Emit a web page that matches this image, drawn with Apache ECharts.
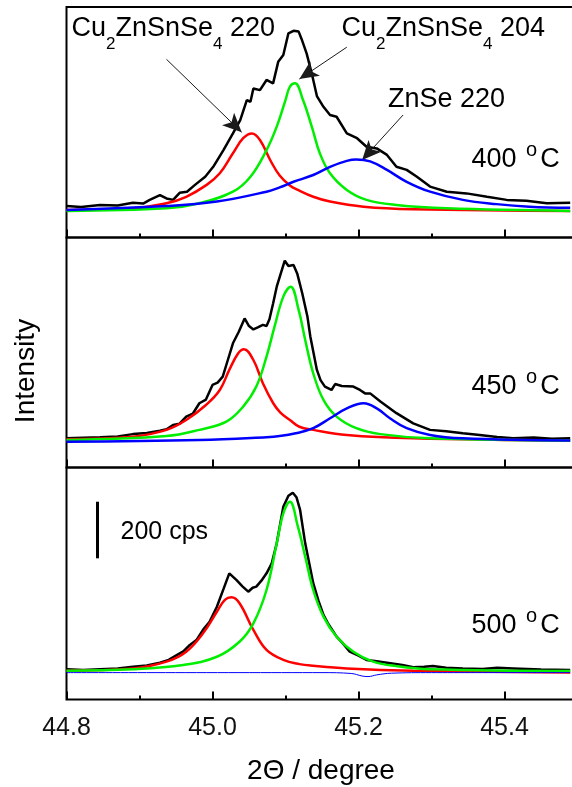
<!DOCTYPE html>
<html><head><meta charset="utf-8">
<script src="https://cdn.jsdelivr.net/npm/echarts@6/dist/echarts.min.js"></script>
<style>html,body{margin:0;padding:0;background:#fff}#c{width:572px;height:787px}</style>
</head><body><div id="c"></div>
<script>
// ---------- DATA (2Theta in degree, intensity in cps above each panel's lower edge) ----------
// 400 °C
const t400Exp = [44.800,44.820,44.846,44.870,44.891,44.905,44.914,44.928,44.937,44.946,44.955,44.965,44.976,44.990,45.001,45.015,45.028,45.038,45.047,45.052,45.056,45.065,45.074,45.083,45.090,45.097,45.104,45.111,45.118,45.122,45.129,45.136,45.143,45.152,45.161,45.170,45.184,45.198,45.211,45.225,45.239,45.252,45.266,45.280,45.298,45.321,45.348,45.376,45.403,45.430,45.458,45.490];
const i400Exp = [111,108,115,113,123,120,133,150,138,133,158,162,186,215,250,309,368,415,486,480,527,521,557,545,621,645,722,731,728,702,650,580,500,462,433,427,368,351,321,315,292,250,239,215,180,162,156,144,133,130,121,123];
const t400Cu220 = [44.800,44.891,44.937,44.964,44.992,45.010,45.028,45.042,45.054,45.065,45.079,45.092,45.106,45.117,45.138,45.161,45.207,45.275,45.490];
const i400Cu220 = [97,103,121,144,186,227,298,351,368,345,274,219,184,168,144,127,109,100,94];
const t400Cu204 = [44.800,44.937,44.982,45.028,45.052,45.074,45.088,45.100,45.106,45.113,45.124,45.136,45.147,45.161,45.184,45.211,45.252,45.321,45.490];
const i400Cu204 = [94,103,121,162,215,309,392,486,533,545,486,392,298,227,168,133,115,103,94];
const t400ZnSe = [44.800,44.937,45.006,45.074,45.092,45.111,45.138,45.161,45.184,45.197,45.216,45.239,45.266,45.298,45.343,45.389,45.434,45.490];
const i400ZnSe = [97,111,127,162,177,197,221,250,271,276,269,239,197,162,133,118,109,105];
// 450 °C
const t450Exp = [44.800,44.823,44.846,44.870,44.891,44.910,44.928,44.937,44.946,44.955,44.964,44.973,44.982,44.991,45.000,45.007,45.014,45.021,45.028,45.036,45.044,45.050,45.056,45.062,45.069,45.074,45.078,45.083,45.088,45.094,45.099,45.104,45.111,45.116,45.123,45.130,45.134,45.143,45.148,45.154,45.163,45.168,45.177,45.193,45.202,45.209,45.216,45.230,45.252,45.275,45.298,45.320,45.343,45.366,45.390,45.412,45.440,45.465,45.490];
const i450Exp = [103,105,107,110,118,122,130,135,150,155,180,190,227,240,292,300,321,380,439,480,527,500,488,495,504,500,524,580,639,690,731,712,716,686,615,534,463,345,309,286,274,295,288,286,274,262,262,233,192,156,133,128,121,115,108,103,106,102,103];
const t450Cu220 = [44.800,44.891,44.937,44.964,44.991,45.010,45.023,45.035,45.043,45.056,45.069,45.083,45.093,45.106,45.119,45.138,45.184,45.275,45.490];
const i450Cu220 = [100,109,133,168,221,274,345,403,418,380,298,228,194,168,144,133,115,103,95];
const t450Cu204 = [44.800,44.937,44.982,45.019,45.042,45.060,45.074,45.085,45.097,45.107,45.118,45.127,45.138,45.152,45.170,45.197,45.230,45.298,45.490];
const i450Cu204 = [97,111,133,162,215,286,392,498,604,639,557,451,333,239,180,139,118,103,95];
const t450ZnSe = [44.800,44.982,45.074,45.092,45.114,45.138,45.161,45.184,45.207,45.225,45.243,45.266,45.298,45.343,45.490];
const i450ZnSe = [91,97,107,111,121,139,174,209,227,209,174,139,115,103,95];
// 500 °C
const t500Exp = [44.800,44.823,44.846,44.870,44.891,44.910,44.928,44.940,44.951,44.960,44.969,44.978,44.987,44.996,45.006,45.015,45.023,45.033,45.041,45.049,45.055,45.060,45.067,45.074,45.081,45.088,45.097,45.104,45.110,45.115,45.120,45.127,45.138,45.145,45.152,45.158,45.170,45.178,45.188,45.200,45.211,45.225,45.239,45.260,45.275,45.290,45.302,45.320,45.343,45.370,45.390,45.412,45.450,45.490];
const i500Exp = [107,104,107,110,116,120,130,140,157,170,193,210,246,275,328,390,446,422,400,381,395,399,420,446,480,552,681,720,731,715,670,552,411,350,299,270,222,200,169,155,140,135,130,122,114,116,118,112,110,108,112,110,106,104];
const t500Cu220 = [44.800,44.891,44.937,44.964,44.987,45.006,45.017,45.026,45.037,45.056,45.074,45.097,45.119,45.138,45.184,45.275,45.490];
const i500Cu220 = [102,110,134,169,234,310,352,361,340,246,175,140,125,119,110,102,95];
const t500Cu204 = [44.800,44.891,44.960,45.006,45.037,45.056,45.074,45.088,45.097,45.106,45.117,45.127,45.138,45.152,45.170,45.193,45.220,45.252,45.298,45.490];
const i500Cu204 = [102,107,122,151,204,269,387,552,658,699,611,505,387,293,222,169,134,118,107,101];
const t500ZnSe = [44.800,45.150,45.190,45.205,45.213,45.225,45.245,45.300,45.490];
const i500ZnSe = [95,95,92,83,81,87,93,95,95];
// axis ticks / labels
const xMin = 44.8, xMax = 45.6, xStep = 0.2;
const panelYMax = [815, 813, 820];
const tempLabels = ['400', '450', '500'];
// annotation arrows [theta0, cps0, theta1, cps1] (tail -> head), panel 400 °C
const arrows400 = [[44.937, 630, 45.040, 372], [45.184, 673, 45.119, 560], [45.261, 433, 45.205, 274]];
// 200 cps scale bar (panel 500 °C)
const scaleBarTheta = 44.842, scaleBarBase = 499, scaleBarCps = 200;

// ---------- CHART ----------
const FONT = '"Liberation Sans", Arial, Helvetica, sans-serif';
const pairs = (t, v) => t.map((x, k) => [x, v[k]]);
const panels = [
  {top: 7, height: 230.5, exp: [t400Exp, i400Exp], fits: [[t400Cu220, i400Cu220], [t400Cu204, i400Cu204], [t400ZnSe, i400ZnSe]]},
  {top: 237.5, height: 230, exp: [t450Exp, i450Exp], fits: [[t450Cu220, i450Cu220], [t450Cu204, i450Cu204], [t450ZnSe, i450ZnSe]]},
  {top: 467.5, height: 232, exp: [t500Exp, i500Exp], fits: [[t500Cu220, i500Cu220], [t500Cu204, i500Cu204], [t500ZnSe, i500ZnSe]]}
];
const fitColors = ['#ff0000', '#00ee00', '#0000ff'];

const grids = [], xAxes = [], yAxes = [], series = [];
panels.forEach((p, i) => {
  grids.push({left: 66.5, width: 584, top: p.top, height: p.height, show: true, borderColor: '#000', borderWidth: 2, backgroundColor: 'transparent', outerBoundsMode: 'none', containLabel: false});
  xAxes.push({
    type: 'value', gridIndex: i, min: xMin, max: xMax, interval: xStep,
    axisLine: {show: false},
    axisTick: {show: true, inside: true, length: 8, lineStyle: {color: '#000', width: 2}},
    minorTick: {show: true, splitNumber: 2, length: 4, lineStyle: {color: '#000', width: 2}},
    splitLine: {show: false}, minorSplitLine: {show: false},
    axisLabel: {show: i === 2, fontSize: 25, fontFamily: FONT, color: '#111', margin: 16, showMaxLabel: false, showMinLabel: true,
      formatter: v => v.toFixed(1)}
  });
  yAxes.push({type: 'value', gridIndex: i, min: 0, max: panelYMax[i], show: false, splitLine: {show: false}});
  const black = {
    type: 'line', xAxisIndex: i, yAxisIndex: i, data: pairs(p.exp[0], p.exp[1]),
    symbol: 'none', showSymbol: false, smooth: false, z: 2,
    lineStyle: {color: '#000', width: 2.5}, silent: true, animation: false
  };
  if (i === 0) {
    black.markLine = {
      silent: true, animation: false, symbol: ['none', 'arrow'], label: {show: false},
      lineStyle: {color: '#1a1a1a', width: 1, type: 'solid'}, emphasis: {disabled: true},
      data: arrows400.map(a => [{coord: [a[0], a[1]], symbol: 'none'}, {coord: [a[2], a[3]], symbol: 'arrow', symbolSize: [13, 19]}])
    };
  }
  if (i === 2) {
    black.markLine = {
      silent: true, animation: false, symbol: ['none', 'none'], label: {show: false},
      lineStyle: {color: '#000', width: 3, type: 'solid'}, emphasis: {disabled: true},
      data: [[{coord: [scaleBarTheta, scaleBarBase]}, {coord: [scaleBarTheta, scaleBarBase + scaleBarCps]}]]
    };
  }
  series.push(black);
  p.fits.forEach((f, k) => {
    series.push({
      type: 'line', xAxisIndex: i, yAxisIndex: i, data: pairs(f[0], f[1]),
      symbol: 'none', showSymbol: false, smooth: 0.4, z: 3 + k,
      lineStyle: {color: fitColors[k], width: (i === 2 && k === 2) ? 1 : 2.5}, silent: true, animation: false
    });
  });
});

// rich-text pieces (token placed at lineTop + paddingTop + fontSize/2)
const richMain = {fontSize: 27, fontFamily: FONT, verticalAlign: 'top', fill: '#000'};
const richSub = {fontSize: 17, fontFamily: FONT, verticalAlign: 'top', padding: [20, 0, 0, 0], fill: '#000'};
const richTemp = {fontSize: 27, fontFamily: FONT, verticalAlign: 'top', padding: [6, 0, 0, 0], fill: '#000'};
const richDeg = {fontSize: 20, fontFamily: FONT, verticalAlign: 'top', padding: [0, 3, 0, 2], fill: '#000'};
const tempTop = [140.5, 367.5, 606.3];

const graphic = [
  {type: 'text', x: 71.5, y: 15.5, silent: true, style: {text: '{m|Cu}{s|2}{m|ZnSnSe}{s|4}{m| 220}', rich: {m: richMain, s: richSub}, verticalAlign: 'top', align: 'left'}},
  {type: 'text', x: 341.5, y: 15.5, silent: true, style: {text: '{m|Cu}{s|2}{m|ZnSnSe}{s|4}{m| 204}', rich: {m: richMain, s: richSub}, verticalAlign: 'top', align: 'left'}},
  {type: 'text', x: 388, y: 86, silent: true, style: {text: '{m|ZnSe 220}', rich: {m: richMain}, verticalAlign: 'top', align: 'left'}},
  {type: 'text', x: 120.5, y: 532, silent: true, style: {text: '200 cps', fontSize: 25, fontFamily: FONT, fill: '#000', verticalAlign: 'middle', align: 'left'}},
  {type: 'text', x: 321, y: 771, silent: true, style: {text: '2\u0398 / degree', fontSize: 28, fontFamily: FONT, fill: '#000', verticalAlign: 'middle', align: 'center'}},
  {type: 'text', x: 25.8, y: 371, rotation: Math.PI / 2, silent: true, style: {text: 'Intensity', fontSize: 28, fontFamily: FONT, fill: '#000', verticalAlign: 'middle', align: 'center'}}
];
tempLabels.forEach((t, i) => {
  graphic.push({type: 'text', x: 471.5, y: tempTop[i], silent: true,
    style: {text: '{t|' + t + ' }{o|o}{t|C}', rich: {t: richTemp, o: richDeg}, verticalAlign: 'top', align: 'left'}});
});

const chart = echarts.init(document.getElementById('c'), null, {renderer: 'canvas'});
chart.setOption({
  animation: false,
  backgroundColor: '#fff',
  grid: grids, xAxis: xAxes, yAxis: yAxes, series: series, graphic: graphic
});
</script>
</body></html>
